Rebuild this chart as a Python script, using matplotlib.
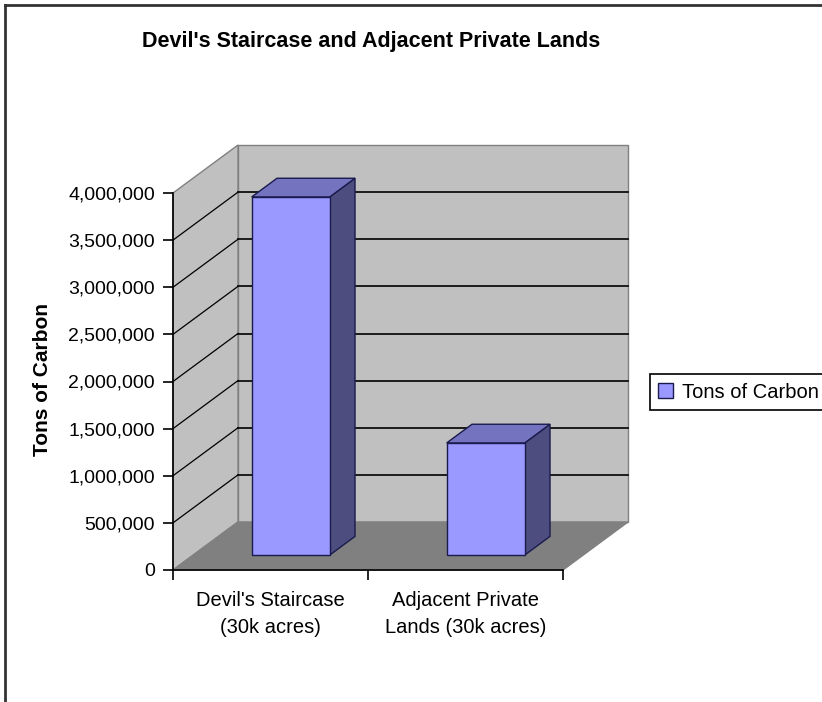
import matplotlib
matplotlib.use('Agg')
import matplotlib.pyplot as plt
from matplotlib.patches import Polygon, Patch
from matplotlib.lines import Line2D
from matplotlib.ticker import FuncFormatter

plt.rcParams['font.family'] = ['Liberation Sans', 'DejaVu Sans']

title = "Devil's Staircase and Adjacent Private Lands"
y_label = 'Tons of Carbon'
series_name = 'Tons of Carbon'
categories = ["Devil's Staircase\n(30k acres)", "Adjacent Private\nLands (30k acres)"]
tons = [3800000, 1190000]
y_ticks = [0, 500000, 1000000, 1500000, 2000000, 2500000, 3000000, 3500000, 4000000]

# oblique "3d" look: depth offset expressed in data units of the axes
y_max = y_ticks[-1]
n_cat = len(categories)
depth_x = 1 / 3
depth_y = y_max * 48 / 377

front_col = '#9999ff'
side_col = '#4d4d80'
top_col = '#7373bf'
edge_col = '#1a1a4d'


def pt(x, y, d):
	return (x + d * depth_x, y + d * depth_y)


def poly(ax, pts, fc, ec, z, lw=1.0):
	ax.add_patch(Polygon(pts, closed=True, facecolor=fc, edgecolor=ec,
		linewidth=lw, zorder=z, clip_on=False))


fig = plt.figure(figsize=(8.22, 7.02), dpi=100)
ax = fig.add_axes([173 / 822, 132 / 702, 390 / 822, 377 / 702])
ax.set_xlim(0, n_cat)
ax.set_ylim(0, y_max)
ax.set_facecolor('none')

# walls and floor
poly(ax, [pt(0, 0, 1), pt(n_cat, 0, 1), pt(n_cat, y_max, 1), pt(0, y_max, 1)],
	'#c0c0c0', '#808080', 0.5)
poly(ax, [pt(0, 0, 0), pt(0, 0, 1), pt(0, y_max, 1), pt(0, y_max, 0)],
	'#c0c0c0', '#808080', 0.5)
poly(ax, [pt(0, 0, 0), pt(n_cat, 0, 0), pt(n_cat, 0, 1), pt(0, 0, 1)],
	'#808080', '#808080', 0.6)

# gridlines on side wall and back wall
for v in y_ticks[1:-1]:
	xs, ys = zip(pt(0, v, 0), pt(0, v, 1))
	ax.plot(xs, ys, color='black', lw=0.9, zorder=0.7, clip_on=False)
	xs, ys = zip(pt(0, v, 1), pt(n_cat, v, 1))
	ax.plot(xs, ys, color='black', lw=1.2, zorder=0.7, clip_on=False)

# bars
half_w = 0.2
d0, d1 = 0.31, 0.70
for i, v in enumerate(tons):
	c = i + 0.5
	x0, x1 = c - half_w, c + half_w
	poly(ax, [pt(x1, 0, d0), pt(x1, 0, d1), pt(x1, v, d1), pt(x1, v, d0)],
		side_col, edge_col, 1)
	poly(ax, [pt(x0, v, d0), pt(x1, v, d0), pt(x1, v, d1), pt(x0, v, d1)],
		top_col, edge_col, 1)
	poly(ax, [pt(x0, 0, d0), pt(x1, 0, d0), pt(x1, v, d0), pt(x0, v, d0)],
		front_col, edge_col, 1.1)

# axes
for s in ['top', 'right']:
	ax.spines[s].set_visible(False)
for s in ['left', 'bottom']:
	ax.spines[s].set_color('black')
	ax.spines[s].set_linewidth(1.2)

ax.set_yticks(y_ticks)
ax.yaxis.set_major_formatter(FuncFormatter(lambda v, p: '{:,.0f}'.format(v)))
ax.tick_params(axis='y', direction='out', length=7, width=1.2, pad=6,
	labelsize=14, colors='black')
ax.set_xticks(range(n_cat + 1))
ax.set_xticklabels([])
ax.set_xticks([i + 0.5 for i in range(n_cat)], minor=True)
ax.set_xticklabels(categories, minor=True, fontsize=14.5, linespacing=1.55)
ax.tick_params(axis='x', which='major', direction='out', length=7, width=1.2)
ax.tick_params(axis='x', which='minor', length=0, pad=15)

fig.text(371 / 822, 1 - 42 / 702, title, ha='center', va='center',
	fontsize=15.5, fontweight='bold')
fig.text(43 / 822, 1 - 380 / 702, y_label, ha='center', va='center',
	rotation=90, fontsize=15, fontweight='bold')

leg = fig.legend(handles=[Patch(facecolor=front_col, edgecolor=edge_col, label=series_name)],
	loc='center left', bbox_to_anchor=(650 / 822, 1 - 392 / 702),
	fancybox=False, framealpha=1, edgecolor='black', borderaxespad=0,
	handlelength=0.75, handleheight=0.75, handletextpad=0.45, borderpad=0.4,
	fontsize=14.5)
leg.get_frame().set_linewidth(1.2)

# chart frame (left and top edges visible)
fig.add_artist(Line2D([5 / 822, 5 / 822], [0, 1 - 5 / 702], color='#333333', lw=2))
fig.add_artist(Line2D([5 / 822, 1], [1 - 5 / 702, 1 - 5 / 702], color='#333333', lw=2))

fig.savefig('out.png', dpi=100)
